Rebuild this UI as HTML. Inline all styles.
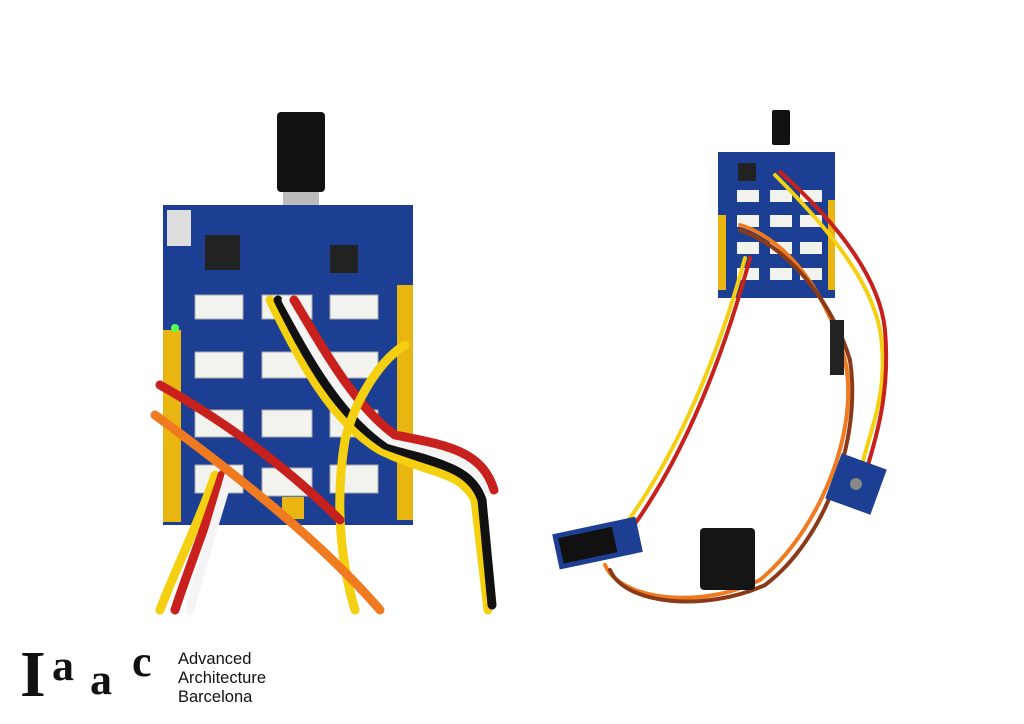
<!DOCTYPE html>
<html><head><meta charset="utf-8"><style>
html,body{margin:0;padding:0;background:#fff;width:1024px;height:724px;overflow:hidden}
svg{position:absolute;left:0;top:0}
.logo{position:absolute;left:178px;top:650px;font-family:"Liberation Sans",sans-serif;font-size:16.5px;line-height:19px;color:#111}
.big{position:absolute;left:20px;top:640px;font-family:"Liberation Serif",serif;font-weight:bold;color:#111;line-height:1}
.big span{position:absolute}
</style></head><body>
<svg width="1024" height="724" viewBox="0 0 1024 724">
<rect x="277" y="112" width="48" height="80" rx="4" fill="#111"/>
<rect x="283" y="192" width="36" height="36" fill="#bbb"/>
<rect x="163" y="205" width="250" height="320" fill="#1c3f94"/>
<rect x="163" y="330" width="18" height="192" fill="#e8b511"/>
<rect x="397" y="285" width="16" height="235" fill="#e8b511"/>
<rect x="205" y="235" width="35" height="35" fill="#222"/>
<rect x="330" y="245" width="28" height="28" fill="#222"/>
<rect x="167" y="210" width="24" height="36" fill="#ddd"/>
<g fill="#f2f2ee" stroke="#aaa">
<rect x="195" y="295" width="48" height="24"/><rect x="262" y="295" width="50" height="24"/><rect x="330" y="295" width="48" height="24"/>
<rect x="195" y="352" width="48" height="26"/><rect x="262" y="352" width="50" height="26"/><rect x="330" y="352" width="48" height="26"/>
<rect x="195" y="410" width="48" height="27"/><rect x="262" y="410" width="50" height="27"/><rect x="330" y="410" width="48" height="27"/>
<rect x="195" y="465" width="48" height="28"/><rect x="262" y="468" width="50" height="28"/><rect x="330" y="465" width="48" height="28"/>
</g>
<rect x="282" y="497" width="22" height="22" fill="#e8b511"/>
<circle cx="175" cy="328" r="4" fill="#5f5"/>
<g fill="none" stroke-width="9" stroke-linecap="round">
<path d="M270 300 C300 360 330 420 380 450 C430 475 460 470 475 500 L488 610" stroke="#f5d010"/>
<path d="M278 300 C308 360 338 415 385 445 C435 465 470 465 482 500 L492 605" stroke="#111"/>
<path d="M286 300 C316 355 346 410 390 440 C440 455 475 455 488 490" stroke="#f4f4f4"/>
<path d="M294 300 C324 350 354 405 395 435 C445 445 482 450 494 490" stroke="#c8201c"/>
<path d="M405 345 C380 360 355 400 345 440 C335 500 340 560 355 610" stroke="#f5d010"/>
<path d="M215 475 C200 520 175 570 160 610" stroke="#f5d010"/>
<path d="M222 475 C208 520 188 570 175 610" stroke="#c8201c"/>
<path d="M229 475 C216 520 200 570 190 610" stroke="#f4f4f4"/>
<path d="M155 415 C230 470 320 540 380 610" stroke="#ef7a1f"/>
<path d="M160 385 C240 430 300 480 340 520" stroke="#c8201c"/>
</g>
<rect x="772" y="110" width="18" height="35" rx="2" fill="#111"/>
<rect x="718" y="152" width="117" height="146" fill="#1c3f94"/>
<rect x="718" y="215" width="8" height="75" fill="#e8b511"/>
<rect x="828" y="200" width="7" height="90" fill="#e8b511"/>
<g fill="#f2f2ee">
<rect x="737" y="190" width="22" height="12"/><rect x="770" y="190" width="22" height="12"/><rect x="800" y="190" width="22" height="12"/>
<rect x="737" y="215" width="22" height="12"/><rect x="770" y="215" width="22" height="12"/><rect x="800" y="215" width="22" height="12"/>
<rect x="737" y="242" width="22" height="12"/><rect x="770" y="242" width="22" height="12"/><rect x="800" y="242" width="22" height="12"/>
<rect x="737" y="268" width="22" height="12"/><rect x="770" y="268" width="22" height="12"/><rect x="800" y="268" width="22" height="12"/>
</g>
<rect x="738" y="163" width="18" height="18" fill="#222"/>
<g fill="none" stroke-width="4" stroke-linecap="round">
<path d="M745 258 C720 350 680 450 625 525" stroke="#f5d010"/>
<path d="M750 258 C725 350 688 450 632 528" stroke="#c8201c"/>
<path d="M775 175 C830 230 870 280 880 330 C890 390 870 430 862 465" stroke="#f5d010"/>
<path d="M780 172 C840 225 880 280 885 330 C890 390 878 430 868 465" stroke="#c8201c"/>
<path d="M740 225 C790 240 830 300 845 360 C860 430 820 530 760 580 C700 610 620 600 605 565" stroke="#ef7a1f"/>
<path d="M740 230 C795 250 835 310 850 360 C862 440 825 540 765 585 C705 612 625 605 610 570" stroke="#8a3a18"/>
</g>
<rect x="830" y="320" width="14" height="55" fill="#222"/>
<g transform="rotate(-12 598 543)"><rect x="555" y="525" width="85" height="36" fill="#1c3f94"/><rect x="560" y="530" width="55" height="26" fill="#111"/></g>
<rect x="700" y="528" width="55" height="62" rx="4" fill="#151515"/>
<g transform="rotate(20 856 484)"><rect x="832" y="460" width="48" height="48" fill="#1c3f94"/><circle cx="856" cy="484" r="6" fill="#888"/></g>
</svg>
<div class="big"><span style="font-size:66px;left:0;top:2px;font-weight:900">I</span><span style="font-size:44px;left:32px;top:4px">a</span><span style="font-size:44px;left:70px;top:18px">a</span><span style="font-size:44px;left:112px;top:0px">c</span></div>
<div class="logo">Advanced<br>Architecture<br>Barcelona</div>
</body></html>
